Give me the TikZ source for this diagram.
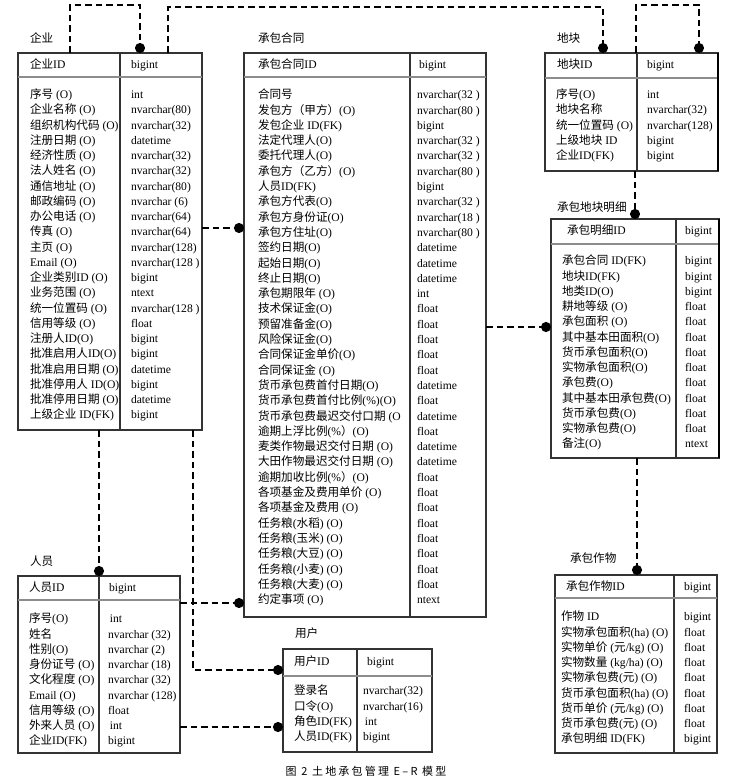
\documentclass[tikz,border=0pt]{standalone}
\usepackage{fontspec}
\setmainfont{Liberation Serif}
\newfontfamily\cjk{Noto Sans CJK SC}
\newfontfamily\capfont{Noto Sans CJK SC}[LetterSpace=20]
\usetikzlibrary{arrows.meta,calc}
% automatic switch to the CJK font for CJK characters
\XeTeXinterchartokenstate=1
\chardef\CJKcls=7
\newcount\cjkc
\def\setcjkrange#1#2{\cjkc=#1 \loop\XeTeXcharclass\cjkc=\CJKcls\advance\cjkc by 1 \ifnum\cjkc<#2 \repeat}
\setcjkrange{"4E00}{"A000}
\setcjkrange{"3000}{"3040}
\setcjkrange{"FF00}{"FFF0}
\XeTeXinterchartoks 0 \CJKcls = {\begingroup\cjk}
\XeTeXinterchartoks 4095 \CJKcls = {\begingroup\cjk}
\XeTeXinterchartoks \CJKcls 0 = {\endgroup}
\XeTeXinterchartoks \CJKcls 4095 = {\endgroup}

\newcounter{rowi}
\newcommand\startrows[5]{\def\ename{#1}\def\enx{#2}\def\ety{#3}\def\efy{#4}\def\edy{#5}\setcounter{rowi}{0}}
\newcommand\rw[2]{%
  \pgfmathsetmacro\ry{\efy+\arabic{rowi}*\edy}%
  \node[fld, name=\ename-n\arabic{rowi}] at (\enx,\ry) {#1};%
  \node[fld, name=\ename-t\arabic{rowi}] at (\ety,\ry) {#2};%
  \stepcounter{rowi}}
% #1 name, #2 left, #3 top, #4 right, #5 bottom, #6 divider x, #7 header separator y
\newcommand\ent[7]{%
  \node[ebox, minimum width={#4-#2}, minimum height={#5-#3}, name=#1] at (#2,#3) {};
  \draw[eline] (#6,#3) -- (#6,#5);
  \draw[hsep] (#2,#7) -- (#4,#7);
}
\tikzset{
  fld/.style={anchor=west, inner sep=0pt, outer sep=0pt, text height=8pt, text depth=2.5pt,
    font=\fontsize{11.6}{13}\selectfont},
  ebox/.style={draw=black!80, line width=1.1pt, anchor=north west, inner sep=0pt, outer sep=0pt},
  eline/.style={draw=black!80, line width=1.1pt},
  hsep/.style={draw=black!45, line width=2.4pt},
  rel/.style={line width=2pt, dash pattern=on 6.5pt off 4pt, -{Circle[length=10pt,width=10pt]}},
}
\begin{document}
\begin{tikzpicture}[x=1pt,y=-1pt]
\fill[white] (0,0) rectangle (732,778);
\useasboundingbox (0,0) rectangle (732,778);

% ---------- 企业 ----------
\node[fld, name=qy-l] at (30,40) {企业};
\ent{qy}{18}{53}{202}{430}{120}{77}
\node[fld, name=qy-h] at (30,66) {企业ID};
\node[fld, name=qy-ht] at (131,66) {bigint};
\startrows{qy}{30}{131}{96}{15.24}
\rw{序号 (O)}{int}
\rw{企业名称 (O)}{nvarchar(80)}
\rw{组织机构代码 (O)}{nvarchar(32)}
\rw{注册日期 (O)}{datetime}
\rw{经济性质 (O)}{nvarchar(32)}
\rw{法人姓名 (O)}{nvarchar(32)}
\rw{通信地址 (O)}{nvarchar(80)}
\rw{邮政编码 (O)}{nvarchar (6)}
\rw{办公电话 (O)}{nvarchar(64)}
\rw{传真 (O)}{nvarchar(64)}
\rw{主页 (O)}{nvarchar(128)}
\rw{Email (O)}{nvarchar(128 )}
\rw{企业类别ID (O)}{bigint}
\rw{业务范围 (O)}{ntext}
\rw{统一位置码 (O)}{nvarchar(128 )}
\rw{信用等级 (O)}{float}
\rw{注册人ID(O)}{bigint}
\rw{批准启用人ID(O)}{bigint}
\rw{批准启用日期 (O)}{datetime}
\rw{批准停用人 ID(O)}{bigint}
\rw{批准停用日期 (O)}{datetime}
\rw{上级企业 ID(FK)}{bigint}

% ---------- 承包合同 ----------
\node[fld, name=ht-l] at (258,40) {承包合同};
\ent{ht}{244}{53}{486}{617}{410}{77}
\node[fld, name=ht-h] at (258,66) {承包合同ID};
\node[fld, name=ht-ht] at (419,66) {bigint};
\startrows{ht}{258}{417}{96}{15.3}
\rw{合同号}{nvarchar(32 )}
\rw{发包方（甲方）(O)}{nvarchar(80 )}
\rw{发包企业 ID(FK)}{bigint}
\rw{法定代理人(O)}{nvarchar(32 )}
\rw{委托代理人(O)}{nvarchar(32 )}
\rw{承包方（乙方）(O)}{nvarchar(80 )}
\rw{人员ID(FK)}{bigint}
\rw{承包方代表(O)}{nvarchar(32 )}
\rw{承包方身份证(O)}{nvarchar(18 )}
\rw{承包方住址(O)}{nvarchar(80 )}
\rw{签约日期(O)}{datetime}
\rw{起始日期(O)}{datetime}
\rw{终止日期(O)}{datetime}
\rw{承包期限年 (O)}{int}
\rw{技术保证金(O)}{float}
\rw{预留准备金(O)}{float}
\rw{风险保证金(O)}{float}
\rw{合同保证金单价(O)}{float}
\rw{合同保证金 (O)}{float}
\rw{货币承包费首付日期(O)}{datetime}
\rw{货币承包费首付比例(\%)(O)}{float}
\rw{货币承包费最迟交付口期 (O}{datetime}
\rw{逾期上浮比例(\%）(O)}{float}
\rw{麦类作物最迟交付日期 (O)}{datetime}
\rw{大田作物最迟交付日期 (O)}{datetime}
\rw{逾期加收比例(\%）(O)}{float}
\rw{各项基金及费用单价 (O)}{float}
\rw{各项基金及费用 (O)}{float}
\rw{任务粮(水稻) (O)}{float}
\rw{任务粮(玉米) (O)}{float}
\rw{任务粮(大豆) (O)}{float}
\rw{任务粮(小麦) (O)}{float}
\rw{任务粮(大麦) (O)}{float}
\rw{约定事项 (O)}{ntext}

% ---------- 地块 ----------
\node[fld, name=dk-l] at (557,40) {地块};
\ent{dk}{545}{53}{718}{171}{637}{78}
\draw[line width=2.2pt] (dk.north east) -- (dk.south east);
\node[fld, name=dk-h] at (557,66) {地块ID};
\node[fld, name=dk-ht] at (647,66) {bigint};
\startrows{dk}{556}{647}{96}{15.25}
\rw{序号(O)}{int}
\rw{地块名称}{nvarchar(32)}
\rw{统一位置码 (O)}{nvarchar(128)}
\rw{上级地块 ID}{bigint}
\rw{企业ID(FK)}{bigint}

% ---------- 承包地块明细 ----------
\node[fld, name=mx-l] at (557,209) {承包地块明细};
\ent{mx}{551}{219}{719}{458}{676}{244}
\draw[line width=2.2pt] (mx.north east) -- (mx.south east);
\node[fld, name=mx-h] at (567,232) {承包明细ID};
\node[fld, name=mx-ht] at (685,232) {bigint};
\startrows{mx}{562}{685}{262}{15.25}
\rw{承包合同 ID(FK)}{bigint}
\rw{地块ID(FK)}{bigint}
\rw{地类ID(O)}{bigint}
\rw{耕地等级 (O)}{float}
\rw{承包面积 (O)}{float}
\rw{其中基本田面积(O)}{float}
\rw{货币承包面积(O)}{float}
\rw{实物承包面积(O)}{float}
\rw{承包费(O)}{float}
\rw{其中基本田承包费(O)}{float}
\rw{货币承包费(O)}{float}
\rw{实物承包费(O)}{float}
\rw{备注(O)}{ntext}

% ---------- 承包作物 ----------
\node[fld, name=zw-l] at (570,560) {承包作物};
\ent{zw}{555}{575}{717}{753}{674}{598}
\node[fld, name=zw-h] at (566,588) {承包作物ID};
\node[fld, name=zw-ht] at (684,588) {bigint};
\startrows{zw}{561}{684}{618}{15.25}
\rw{作物 ID}{bigint}
\rw{实物承包面积(ha) (O)}{float}
\rw{实物单价 (元/kg) (O)}{float}
\rw{实物数量 (kg/ha) (O)}{float}
\rw{实物承包费(元) (O)}{float}
\rw{货币承包面积(ha) (O)}{float}
\rw{货币单价 (元/kg) (O)}{float}
\rw{货币承包费(元) (O)}{float}
\rw{承包明细 ID(FK)}{bigint}

% ---------- 人员 ----------
\node[fld, name=ry-l] at (30,563) {人员};
\ent{ry}{18}{576}{180}{753}{99}{600}
\node[fld, name=ry-h] at (29,589) {人员ID};
\node[fld, name=ry-ht] at (109,589) {bigint};
\startrows{ry}{29}{108}{620}{15.25}
\rw{序号(O)}{\,int}
\rw{姓名}{nvarchar (32)}
\rw{性别(O)}{nvarchar (2)}
\rw{身份证号 (O)}{nvarchar (18)}
\rw{文化程度 (O)}{nvarchar (32)}
\rw{Email (O)}{nvarchar (128)}
\rw{信用等级 (O)}{float}
\rw{外来人员 (O)}{\,int}
\rw{企业ID(FK)}{bigint}

% ---------- 用户 ----------
\node[fld, name=yh-l] at (295,635) {用户};
\ent{yh}{283}{649}{432}{752}{357}{676}
\node[fld, name=yh-h] at (294,663) {用户ID};
\node[fld, name=yh-ht] at (367,663) {bigint};
\startrows{yh}{294}{363}{692}{15.3}
\rw{登录名}{nvarchar(32)}
\rw{口令(O)}{nvarchar(16)}
\rw{角色ID(FK)}{\,int}
\rw{人员ID(FK)}{bigint}

% ---------- connectors ----------
\draw[rel] ($(qy.north west)+(52,0)$) -- ++(0,-48) -| ($(qy.north west)+(122,0)$);
\draw[rel] ($(qy.north west)+(150,0)$) -- ++(0,-46) -| ($(dk.north west)+(58,0)$);
\draw[rel] ($(dk.north west)+(91,0)$) -- ++(0,-48) -| ($(dk.north west)+(154,0)$);
\draw[rel] ($(qy.north east)+(0,175)$) coordinate (c4) -- (c4 -| ht.west);
\draw[rel] ($(ht.north east)+(0,274)$) coordinate (c5) -- (c5 -| mx.west);
\draw[rel] ($(dk.south west)+(90,0)$) coordinate (c6) -- (c6 |- mx.north);
\draw[rel] ($(mx.south west)+(86,0)$) coordinate (c7) -- (c7 |- zw.north);
\draw[rel] ($(qy.south west)+(81,0)$) coordinate (c8) -- (c8 |- ry.north);
\draw[rel] ($(qy.south west)+(175,0)$) |- ($(yh.north west)+(0,21)$);
\draw[rel] ($(ry.north east)+(0,27)$) coordinate (c10) -- (c10 -| ht.west);
\draw[rel] ($(ry.north east)+(0,151)$) coordinate (c11) -- (c11 -| yh.west);

% ---------- caption ----------
\node[inner sep=0pt, font=\fontsize{11}{13}\selectfont, name=cap] at (366,771)
  {{\XeTeXinterchartokenstate=0 \capfont 图 2 土地承包管理 E–R 模型}};
\end{tikzpicture}
\end{document}
